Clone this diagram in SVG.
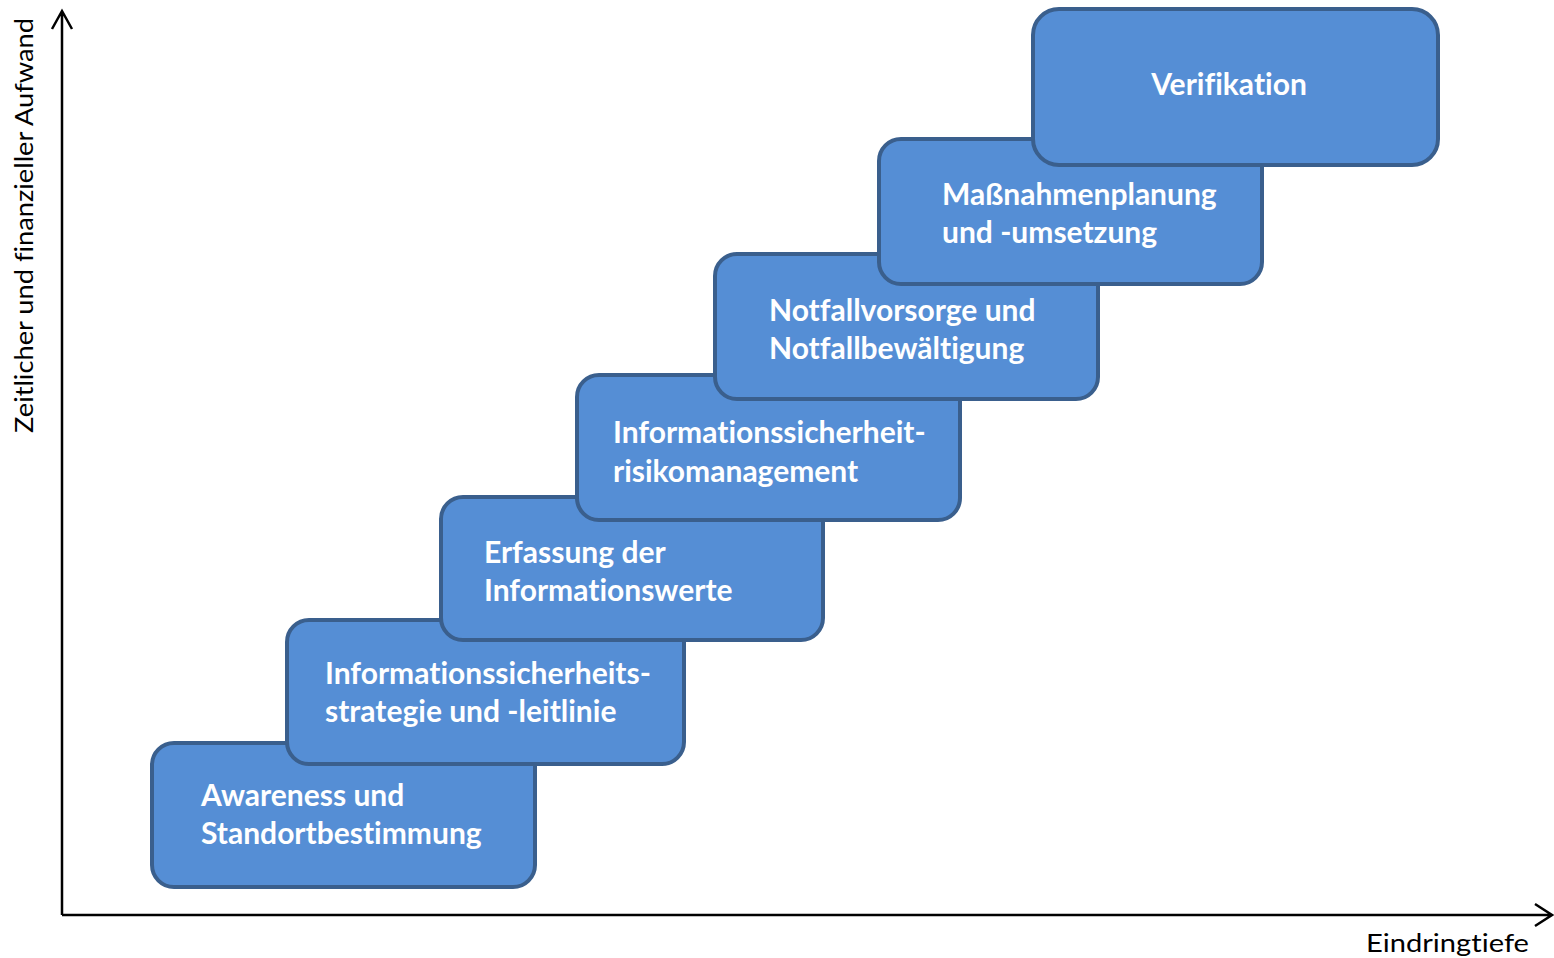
<svg xmlns="http://www.w3.org/2000/svg" width="1554" height="958" viewBox="0 0 1554 958">
  <defs>
    <style>
      text { font-variant-ligatures: none; font-feature-settings: "liga" 0; }
      .step rect { fill: #558ED5; stroke: #3A5F8D; stroke-width: 4; }
      .step text { fill: #FFFFFF; font-family: Lato, "Open Sans", "Liberation Sans", sans-serif; font-weight: bold; font-size: 30px; }
      .axis { stroke: #000000; stroke-width: 2.5; fill: none; }
      .axis-label { fill: #000000; font-family: Lato, "Open Sans", "Liberation Sans", sans-serif; font-size: 25px; }
    </style>
  </defs>

  <rect width="1554" height="958" fill="#FFFFFF"/>

  <!-- axes -->
  <g id="connectors">
    <path class="axis" d="M62,915 V11 M52,29 L62,11 L72,29"/>
    <path class="axis" d="M62,915 H1552 M1535,904 L1552,915 L1535,926"/>
  </g>
  <text class="axis-label" transform="translate(33,433) rotate(-90)" textLength="415" lengthAdjust="spacingAndGlyphs">Zeitlicher und finanzieller Aufwand</text>
  <text class="axis-label" x="1366" y="952" textLength="163" lengthAdjust="spacingAndGlyphs">Eindringtiefe</text>

  <!-- staircase of steps, each higher step drawn over the one below -->
  <g id="step1" class="step">
    <rect x="152" y="743" width="383" height="144" rx="22"/>
    <text x="201" y="806">Awareness und</text>
    <text x="201" y="844">Standortbestimmung</text>
  </g>
  <g id="step2" class="step">
    <rect x="287" y="620" width="397" height="144" rx="22"/>
    <text x="325" y="684">Informationssicherheits-</text>
    <text x="325" y="722">strategie und -leitlinie</text>
  </g>
  <g id="step3" class="step">
    <rect x="441" y="497" width="382" height="143" rx="22"/>
    <text x="484" y="563">Erfassung der</text>
    <text x="484" y="601">Informationswerte</text>
  </g>
  <g id="step4" class="step">
    <rect x="577" y="375" width="383" height="145" rx="22"/>
    <text x="613" y="443">Informationssicherheit-</text>
    <text x="613" y="482">risikomanagement</text>
  </g>
  <g id="step5" class="step">
    <rect x="715" y="254" width="383" height="145" rx="22"/>
    <text x="769" y="321">Notfallvorsorge und</text>
    <text x="769" y="359">Notfallbewältigung</text>
  </g>
  <g id="step6" class="step">
    <rect x="879" y="139" width="383" height="145" rx="22"/>
    <text x="942" y="205">Maßnahmenplanung</text>
    <text x="942" y="243">und -umsetzung</text>
  </g>
  <g id="step7" class="step">
    <rect x="1033" y="9" width="405" height="156" rx="26"/>
    <text x="1229" y="95" text-anchor="middle">Verifikation</text>
  </g>
</svg>
